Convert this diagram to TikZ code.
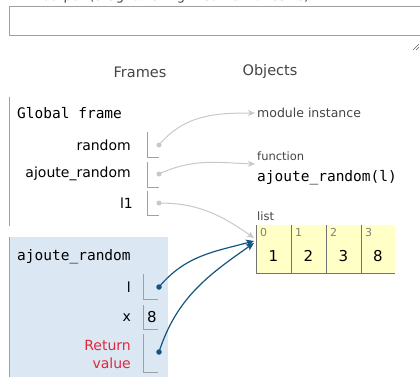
\documentclass[tikz,border=0pt]{standalone}
\usepackage{fontspec}
\setmainfont{DejaVu Sans}
\setmonofont{DejaVu Sans Mono}
\usetikzlibrary{arrows.meta}
\definecolor{framebg}{HTML}{DCE7F4}
\definecolor{linegray}{HTML}{A0A0A0}
\definecolor{ptrblue}{HTML}{14557F}
\definecolor{ptrgray}{HTML}{C8C8C8}
\definecolor{listbg}{HTML}{FFFFC6}
\definecolor{retred}{HTML}{E0283C}
\definecolor{txtgray}{HTML}{444444}
\begin{document}
\begin{tikzpicture}[x=1pt,y=-1pt,
  varlbl/.style={anchor=east,inner sep=0pt,font=\fontsize{14}{18}\selectfont},
  monotxt/.style={anchor=west,inner sep=0pt,font=\ttfamily\fontsize{14.5}{16}\selectfont},
  vline/.style={draw=linegray,line width=0.8pt},
  gdot/.style={circle,fill=ptrgray,inner sep=0pt,minimum size=5pt},
  bdot/.style={circle,fill=ptrblue,inner sep=0pt,minimum size=5.5pt},
  garrow/.style={draw=ptrgray,line width=1pt,-{Stealth[length=7pt,width=6pt,inset=2pt]}},
  barrow/.style={draw=ptrblue,line width=1.2pt,-{Stealth[length=8pt,width=7pt,inset=2pt]}},
  smallgray/.style={anchor=west,inner sep=0pt,text=txtgray,font=\fontsize{11.5}{13}\selectfont},
  cellval/.style={inner sep=0pt,font=\fontsize{15}{17}\selectfont},
  cellidx/.style={anchor=north west,inner sep=0pt,text=gray,font=\fontsize{11}{13}\selectfont},
  header/.style={inner sep=0pt,text=txtgray,font=\fontsize{14.5}{16}\selectfont}
]
\useasboundingbox (0,0) rectangle (420,377);
\clip (0,0) rectangle (420,377);
% print output area
\node[anchor=base west,inner sep=0pt,text=txtgray,font=\fontsize{13}{15}\selectfont] (ptitle) at (8,1) {Print output (drag lower right corner to resize)};
\draw[draw=linegray,line width=1pt] (9,7) rectangle (425,36);
\draw[draw=black!60,line width=0.6pt] (413,50) -- (419,44) (416,50) -- (419,47);
% headers
\node[header] (hframes) at (140,72) {Frames};
\node[header] (hobjects) at (270,72) {Objects};
% global frame
\draw[vline] (9,97) -- (9,226);
\node[monotxt] (gtitle) at (17,113) {Global frame};
\node[varlbl] (vrandom) at (131,145) {random};
\draw[vline] (147,132) -- (147,157) -- (159,157);
\node[gdot] (drandom) at (159,145) {};
\node[varlbl] (vajoute) at (131,174) {ajoute\_random};
\draw[vline] (147,162) -- (147,187) -- (159,187);
\node[gdot] (dajoute) at (159,174) {};
\node[varlbl] (vl1) at (133,203) {l1};
\draw[vline] (147,191) -- (147,215) -- (159,215);
\node[gdot] (dl1) at (159,203) {};
% ajoute_random frame
\fill[framebg] (9,237) rectangle (168,380);
\draw[vline] (9,237) -- (9,380);
\node[monotxt] (ftitle) at (17,257) {ajoute\_random};
\node[varlbl] (vl) at (131,287) {l};
\draw[vline] (143,274) -- (143,299) -- (158,299);
\node[bdot] (dl) at (159,287) {};
\node[varlbl] (vx) at (131,318) {x};
\draw[vline] (143,305) -- (143,329) -- (158,329);
\node[inner sep=0pt,font=\fontsize{15}{17}\selectfont] (vxval) at (152,317) {8};
\node[varlbl,text=retred,align=right] (vret) at (131,354) {Return\\value};
\draw[vline] (143,334) -- (143,372) -- (158,372);
\node[bdot] (dret) at (159,352) {};
% objects
\node[anchor=west,inner sep=0pt,text=txtgray,font=\fontsize{12.5}{15}\selectfont] (omodule) at (257,113) {module instance};
\node[smallgray] (ofunclbl) at (257,156) {function};
\node[monotxt] (ofunc) at (257,178) {ajoute\_random(l)};
\node[smallgray] (olistlbl) at (257,216) {list};
% list cells
\fill[listbg] (256,225) rectangle (395,273);
\draw[draw=black!55,line width=0.9pt] (256,225) -- (256,273) -- (395,273)
  (291,225) -- (291,273) (326,225) -- (326,273) (361,225) -- (361,273);
\node[cellidx] (i0) at (260,228) {0};
\node[cellidx] (i1) at (295,228) {1};
\node[cellidx] (i2) at (330,228) {2};
\node[cellidx] (i3) at (365,228) {3};
\node[cellval] (c0) at (273.5,256) {1};
\node[cellval] (c1) at (308.5,256) {2};
\node[cellval] (c2) at (343.5,256) {3};
\node[cellval] (c3) at (378,256) {8};
\coordinate (listin1) at (254,238);
\coordinate (listin2) at (254,241);
\coordinate (listin3) at (254,243);
\coordinate (modin) at (255,113);
\coordinate (funcin) at (255,164);
% pointers
\draw[garrow] (drandom.center) to[out=50,in=180] (modin);
\draw[garrow] (dajoute.center) to[out=25,in=178] (funcin);
\draw[garrow] (dl1.center) to[out=0,in=145] (listin1);
\draw[barrow] (dl.center) to[out=50,in=195] (listin2);
\draw[barrow] (dret.center) to[out=72,in=215] (listin3);
\end{tikzpicture}
\end{document}
